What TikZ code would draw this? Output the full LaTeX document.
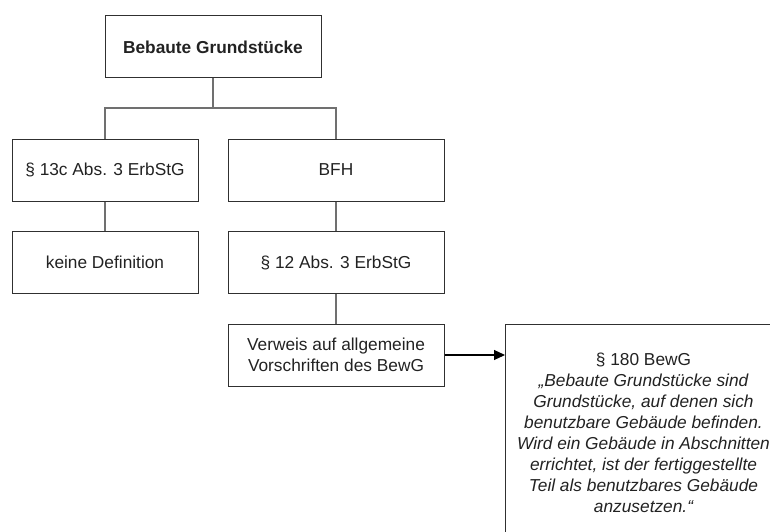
\documentclass[tikz,border=0pt]{standalone}
\usepackage{fontspec}
\setmainfont{Liberation Sans}
\usetikzlibrary{arrows.meta}
\definecolor{ink}{HTML}{222222}
\definecolor{frame}{HTML}{303030}
\definecolor{wire}{HTML}{707070}

\begin{document}
\begin{tikzpicture}[
  x=1pt,
  y=-1pt,
  >={Triangle[length=11pt,width=10pt]},
  box/.style={draw=frame,line width=1pt,text=ink,align=center,
    inner sep=0pt,minimum height=62pt,
    font=\fontsize{17.3}{21}\selectfont},
  wide/.style={box,minimum width=216pt},
  narrow/.style={box,minimum width=186pt},
  link/.style={draw=wire,line width=1.1pt}
]
\useasboundingbox (0,0) rectangle (770,532);
\clip (0,0) rectangle (770,532);

% Tree of boxes
\node[wide] (root) at (213,47) {\bfseries Bebaute Grundstücke};
\node[narrow] (erbstg13) at (105,170) {§ 13c Abs. 3 ErbStG};
\node[wide] (bfh) at (336,170) {BFH};
\node[narrow] (nodef) at (105,262.5) {keine Definition};
\node[wide] (erbstg12) at (336,262.5) {§ 12 Abs. 3 ErbStG};
\node[wide] (verweis) at (336,355) {Verweis auf allgemeine\\Vorschriften des BewG};

% Quoted statute, runs off the page edge
\node[box,anchor=north west,minimum width=276pt,minimum height=216pt]
  (bewg) at (505,324)
  {§ 180 BewG\\
   \itshape „Bebaute Grundstücke sind\\
   \itshape Grundstücke, auf denen sich\\
   \itshape benutzbare Gebäude befinden.\\
   \itshape Wird ein Gebäude in Abschnitten\\
   \itshape errichtet, ist der fertiggestellte\\
   \itshape Teil als benutzbares Gebäude\\
   \itshape anzusetzen.“};

% Connectors
\coordinate (fork) at (213,108);
\draw[link] (root.south) -- (fork);
\draw[link] (fork) -| (erbstg13.north);
\draw[link] (fork) -| (bfh.north);
\draw[link] (erbstg13) -- (nodef);
\draw[link] (bfh) -- (erbstg12);
\draw[link] (erbstg12) -- (verweis);
\draw[->,black,line width=1.1pt] (verweis.east) -- (bewg.west |- verweis.east);

\end{tikzpicture}
\end{document}
